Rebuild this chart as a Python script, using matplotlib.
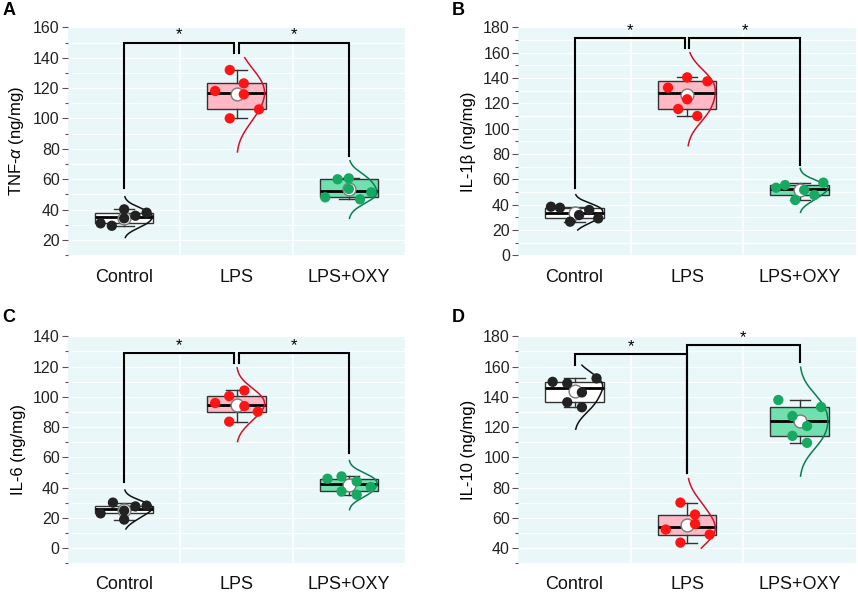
import numpy as np
import matplotlib.pyplot as plt

plt.rcParams['font.family'] = ['Liberation Sans', 'DejaVu Sans']
plt.rcParams['mathtext.fontset'] = 'custom'
plt.rcParams['mathtext.rm'] = 'Liberation Sans'
plt.rcParams['mathtext.it'] = 'Liberation Sans:italic'

groups = ['Control', 'LPS', 'LPS+OXY']

# values (ng/mg), 6 animals per group
tnf_ctrl = [31.0, 29.4, 40.2, 34.3, 36.0, 38.0]
tnf_lps = [131.9, 118.1, 123.1, 115.9, 106.0, 100.1]
tnf_oxy = [48.1, 60.0, 60.6, 53.6, 46.8, 51.4]

il1b_ctrl = [38.4, 37.6, 26.6, 31.8, 35.8, 29.2]
il1b_lps = [132.4, 115.5, 140.5, 123.2, 110.0, 137.4]
il1b_oxy = [53.4, 55.5, 43.7, 51.6, 47.6, 57.4]

il6_ctrl = [23.0, 30.1, 24.8, 18.9, 27.6, 28.1]
il6_lps = [95.9, 100.5, 104.2, 93.9, 90.2, 83.6]
il6_oxy = [45.9, 47.4, 37.5, 44.1, 35.3, 40.4]

il10_ctrl = [149.9, 148.9, 142.9, 152.2, 136.4, 133.1]
il10_lps = [70.1, 62.2, 56.0, 52.3, 49.0, 43.7]
il10_oxy = [137.9, 127.3, 120.7, 114.2, 109.6, 133.3]

# horizontal jitter of the dots
jit_A = [[-0.21, -0.11, 0, 0, 0.10, 0.20],
         [-0.06, -0.19, 0.065, 0.065, 0.20, -0.06],
         [-0.21, -0.10, 0, 0, 0.10, 0.20]]
jit_B = [[-0.21, -0.13, -0.04, 0.04, 0.13, 0.21],
         [-0.17, -0.08, 0, 0, 0.09, 0.18],
         [-0.21, -0.13, -0.04, 0.04, 0.13, 0.21]]
jit_C = [[-0.21, -0.10, 0, 0, 0.10, 0.20],
         [-0.19, -0.065, 0.07, 0.07, 0.19, -0.065],
         [-0.19, -0.065, -0.065, 0.07, 0.07, 0.195]]
jit_D = [[-0.195, -0.065, 0.065, 0.195, -0.065, 0.065],
         [-0.06, 0.07, 0.07, -0.19, 0.20, -0.06],
         [-0.19, -0.065, 0.065, -0.065, 0.065, 0.19]]

# y-range covered by each distribution curve
curve_A = [(21.7, 48.5), (78, 140), (34.3, 72.2)]
curve_B = [(20, 47.9), (86.6, 160), (34, 68.7)]
curve_C = [(12.7, 38.4), (70.4, 119.2), (25.4, 57.9)]
curve_D = [(118.6, 160.9), (40, 86), (87.6, 159.6)]

# significance brackets: x1, y1, x2, y2, top
brk_A = [(1, 54, 1.98, 143, 150), (2.02, 143, 3, 75.5, 150)]
brk_B = [(1, 52.9, 1.98, 163.4, 171.8), (2.02, 163.4, 3, 71.3, 171.8)]
brk_C = [(1, 43.4, 1.98, 122.4, 129), (2.02, 122.4, 3, 62.8, 129)]
brk_D = [(1, 161.3, 2, 90, 168.4), (2, 90, 3, 163.1, 174.5)]

box_col = ['white', '#ffb8c4', '#72e0ae']
dot_col = ['#222222', '#ff1414', '#17a862']
crv_col = ['#111111', '#d4102a', '#0b7d4f']
bg = '#e9f7f9'


def med(a):
    a = sorted(a)
    n = len(a)
    return a[n // 2] if n % 2 else (a[n // 2 - 1] + a[n // 2]) / 2


def box_stats(v):
    s = sorted(v)
    n = len(s)
    return dict(med=med(s), q1=med(s[:(n + 1) // 2]), q3=med(s[n // 2:]),
                whislo=s[0], whishi=s[-1], fliers=[])


def panel(ax, vals, jits, curves, brks, ylim, ymax, ylabel):
    ax.set_facecolor(bg)
    for sp in ax.spines.values():
        sp.set_visible(False)
    ax.set_axisbelow(True)
    for i, v in enumerate(vals):
        pos = i + 1
        v = np.array(v)
        ax.bxp([box_stats(v)], positions=[pos], widths=0.52, patch_artist=True,
               showfliers=False, manage_ticks=False, capwidths=0.18,
               boxprops=dict(facecolor=box_col[i], edgecolor='#333333', lw=1),
               medianprops=dict(color='black', lw=2),
               whiskerprops=dict(color='#333333', lw=1),
               capprops=dict(color='#333333', lw=1), zorder=2)
        lo, hi = curves[i]
        yy = np.linspace(lo, hi, 200)
        bw = 0.9 * v.std(ddof=1)
        d = np.exp(-0.5 * ((yy[:, None] - v[None, :]) / bw) ** 2).sum(axis=1)
        ax.plot(pos + 0.25 * d / d.max(), yy, color=crv_col[i], lw=1.1, zorder=3)
        ax.scatter([pos], [v.mean()], s=85, facecolor='white', edgecolor='#7a7a7a',
                   lw=1, zorder=4)
        ax.scatter(pos + np.array(jits[i]), v, s=55, color=dot_col[i],
                   edgecolors='none', zorder=5)
    for x1, y1, x2, y2, top in brks:
        ax.plot([x1, x1, x2, x2], [y1, top, top, y2], color='black', lw=1.5,
                zorder=3, solid_joinstyle='miter')
        ax.annotate('*', ((x1 + x2) / 2, top), xytext=(0, 0), textcoords='offset points',
                    ha='center', va='bottom', fontsize=12)
    ax.set_xlim(0.5, 3.5)
    ax.set_ylim(*ylim)
    ax.set_xticks([1, 2, 3])
    ax.set_xticklabels(groups)
    ax.set_xticks([1.5, 2.5], minor=True)
    lo_t = int(np.ceil(ylim[0] / 10.0)) * 10
    ax.set_yticks(np.arange(lo_t if lo_t % 20 == 0 else lo_t + 10, ymax + 1, 20))
    ax.set_yticks(np.arange(lo_t, ymax + 1, 10), minor=True)
    ax.grid(axis='y', which='both', color='white', lw=0.9)
    ax.grid(axis='x', which='minor', color='white', lw=1.1)
    ax.tick_params(axis='y', which='major', length=4, width=0.8, color='#555555',
                   labelsize=11.5, pad=2, labelcolor='#222222')
    ax.tick_params(axis='y', which='minor', length=2, width=0.8, color='#555555')
    ax.tick_params(axis='x', which='both', length=0, labelsize=13, pad=9,
                   labelcolor='#111111')
    ax.set_ylabel(ylabel, fontsize=12)
    ax.yaxis.set_label_coords(-0.125, 0.5)
    return ax


fig = plt.figure(figsize=(8.58, 5.92), dpi=100)
W, H = 858.0, 592.0
axA = fig.add_axes([68 / W, 1 - 256 / H, 337 / W, 229.3 / H])
axB = fig.add_axes([518.3 / W, 1 - 256 / H, 337.7 / W, 229.3 / H])
axC = fig.add_axes([68 / W, 1 - 563.3 / H, 337 / W, 227.3 / H])
axD = fig.add_axes([518.3 / W, 1 - 563.3 / H, 337.7 / W, 227.3 / H])

panel(axA, [tnf_ctrl, tnf_lps, tnf_oxy], jit_A, curve_A, brk_A, (9.5, 160.4), 160,
      r'TNF-$\alpha$ (ng/mg)')
panel(axB, [il1b_ctrl, il1b_lps, il1b_oxy], jit_B, curve_B, brk_B, (-0.5, 180.5), 180,
      'IL-1β (ng/mg)')
panel(axC, [il6_ctrl, il6_lps, il6_oxy], jit_C, curve_C, brk_C, (-10, 140.2), 140,
      'IL-6 (ng/mg)')
panel(axD, [il10_ctrl, il10_lps, il10_oxy], jit_D, curve_D, brk_D, (30, 180.2), 180,
      'IL-10 (ng/mg)')

for lab, x, y in [('A', 9, 10.5), ('B', 458, 10.5), ('C', 9, 317), ('D', 458, 317)]:
    fig.text(x / W, 1 - y / H, lab, fontsize=13, fontweight='bold',
             ha='center', va='center')

fig.savefig('out.png', dpi=100)
